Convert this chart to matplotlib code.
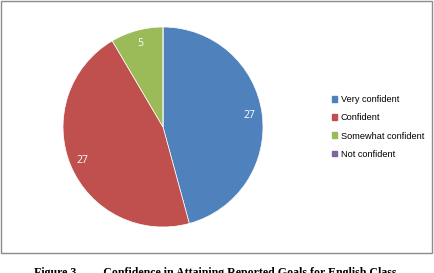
import matplotlib.pyplot as plt
from matplotlib.patches import Rectangle

# Dados do gráfico
categorias = ["Very confident", "Confident", "Somewhat confident", "Not confident"]
valores = [27, 27, 5, 0]
cores = ["#4F81BD", "#C0504D", "#9BBB59", "#8064A2"]
legenda = "Figure 3.        Confidence in Attaining Reported Goals for English Class"

fig = plt.figure(figsize=(4.34, 2.73), dpi=100)

# Moldura cinza em volta do gráfico
fig.patches.append(
    Rectangle((0.002, 1 - 253 / 273), 0.994, 252 / 273, transform=fig.transFigure,
              fill=False, edgecolor="#8c8c8c", linewidth=1.0)
)

# Pizza
ax = fig.add_axes([63 / 434, 1 - 227 / 273, 200 / 434, 200 / 273])
total = sum(valores)
wedges, textos, autotextos = ax.pie(
    valores,
    colors=cores,
    startangle=90,
    counterclock=False,
    autopct=lambda p: "" if p < 0.5 else f"{round(p * total / 100):d}",
    pctdistance=0.87,
    wedgeprops={"edgecolor": "white", "linewidth": 0.5},
    textprops={"color": "white", "fontsize": 7.5, "family": "Open Sans"},
)
ax.set_xlim(-1, 1)
ax.set_ylim(-1, 1)
ax.set_aspect("equal")

# Legenda à direita
handles = [Rectangle((0, 0), 1, 1, color=c) for c in cores]
fig.legend(
    handles, categorias, loc="center left", bbox_to_anchor=(327 / 434, 1 - 127 / 273),
    frameon=False, prop={"family": "Liberation Sans", "size": 6.6},
    handlelength=0.6, handleheight=0.6, handletextpad=0.4, labelspacing=1.0,
    borderpad=0,
)

# Legenda da figura (cortada embaixo)
fig.text(0.497, 1 - 267 / 273, legenda, ha="center", va="top",
         fontsize=8.6, fontweight="bold", family="Liberation Serif")

plt.savefig("out.png", dpi=100)
plt.close()
